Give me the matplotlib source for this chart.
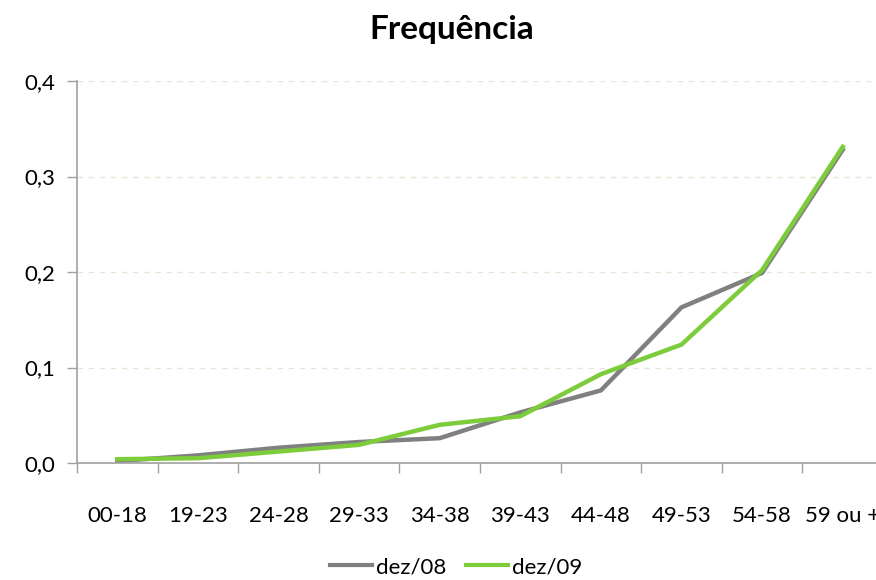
import matplotlib
matplotlib.use("Agg")
import matplotlib.pyplot as plt
from matplotlib.ticker import FuncFormatter, FixedLocator

categories = ["00-18", "19-23", "24-28", "29-33", "34-38", "39-43", "44-48", "49-53", "54-58", "59 ou +"]
dez08 = [0.002, 0.008, 0.016, 0.022, 0.026, 0.053, 0.076, 0.163, 0.199, 0.328]
dez09 = [0.004, 0.005, 0.012, 0.019, 0.040, 0.049, 0.093, 0.124, 0.202, 0.331]
series_labels = ["dez/08", "dez/09"]
y_ticks = [0.0, 0.1, 0.2, 0.3, 0.4]

plt.rcParams['font.family'] = ['Lato', 'DejaVu Sans']

fig = plt.figure(figsize=(8.76, 5.8), dpi=100)
ax = fig.add_axes([77/876, (580-463)/580, (883-77)/876, (463-81)/580])

x = list(range(len(categories)))
ax.plot(x, dez08, color="#808080", lw=3.2, label=series_labels[0], solid_joinstyle='round')
ax.plot(x, dez09, color="#7dcc3c", lw=3.2, label=series_labels[1], solid_joinstyle='round')

ax.set_xlim(-0.5, len(categories) - 0.5)
ax.set_ylim(0, 0.4)
ax.set_yticks(y_ticks)
ax.yaxis.set_major_formatter(FuncFormatter(lambda v, p: f"{v:.1f}".replace(".", ",")))
ax.set_xticks(x)
ax.set_xticklabels(categories)
ax.xaxis.set_minor_locator(FixedLocator([i - 0.5 for i in range(len(categories) + 1)]))
ax.tick_params(axis='x', which='major', length=0, pad=31, labelsize=16, colors='black')
ax.tick_params(axis='x', which='minor', length=7, width=1, color='#a0a0a0', direction='out')
ax.tick_params(axis='y', length=7, width=1, color='#a0a0a0', labelsize=16, pad=9)

for s in ['top', 'right']:
    ax.spines[s].set_visible(False)
for s in ['left', 'bottom']:
    ax.spines[s].set_color('#a0a0a0')
    ax.spines[s].set_linewidth(1.2)

ax.yaxis.grid(True, linestyle=(0, (4, 4)), color='#e6e6d8', lw=1)
ax.set_axisbelow(True)

fig.text(452/876, 1 - 30/580, "Frequência", ha='center', va='center', fontsize=24, fontweight='bold')

leg = fig.legend(loc='center', bbox_to_anchor=(456/876, 1 - 567/580), ncol=2, frameon=False,
                 fontsize=16, handlelength=1.9, handletextpad=0.15, columnspacing=0.9)
for h in leg.get_lines():
    h.set_linewidth(3)

fig.savefig("out.png", dpi=100)
